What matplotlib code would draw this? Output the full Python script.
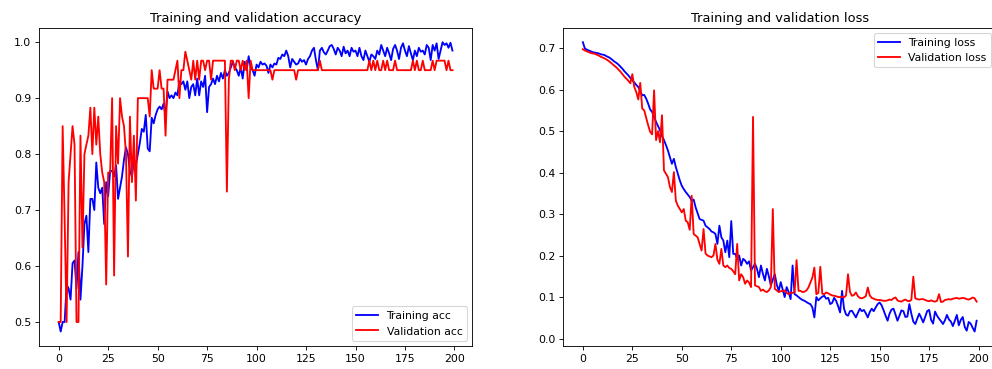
import matplotlib
matplotlib.use('Agg')
import matplotlib.pyplot as plt

# values (200 epochs)
acc = [0.500, 0.483, 0.500, 0.500, 0.567, 0.560, 0.540, 0.605, 0.610, 0.560,
       0.625, 0.540, 0.600, 0.675, 0.690, 0.625, 0.720, 0.720, 0.700, 0.785,
       0.740, 0.730, 0.740, 0.675, 0.750, 0.725, 0.770, 0.770, 0.760, 0.780,
       0.720, 0.740, 0.760, 0.790, 0.812, 0.800, 0.770, 0.760, 0.790, 0.780,
       0.800, 0.820, 0.845, 0.840, 0.870, 0.810, 0.805, 0.865, 0.855, 0.870,
       0.880, 0.885, 0.880, 0.890, 0.870, 0.912, 0.900, 0.905, 0.900, 0.910,
       0.905, 0.930, 0.925, 0.930, 0.915, 0.930, 0.900, 0.920, 0.925, 0.905,
       0.935, 0.905, 0.930, 0.920, 0.940, 0.875, 0.920, 0.925, 0.935, 0.925,
       0.940, 0.930, 0.945, 0.935, 0.950, 0.940, 0.945, 0.955, 0.965, 0.955,
       0.950, 0.940, 0.955, 0.935, 0.965, 0.950, 0.975, 0.955, 0.950, 0.940,
       0.960, 0.955, 0.965, 0.960, 0.962, 0.958, 0.945, 0.960, 0.955, 0.962,
       0.960, 0.972, 0.970, 0.978, 0.975, 0.985, 0.975, 0.955, 0.970, 0.965,
       0.960, 0.962, 0.970, 0.965, 0.968, 0.960, 0.970, 0.975, 0.985, 0.990,
       0.968, 0.950, 0.985, 0.990, 0.982, 0.978, 0.985, 0.993, 0.995, 0.988,
       0.978, 0.990, 0.985, 0.975, 0.992, 0.980, 0.985, 0.975, 0.990, 0.983,
       0.985, 0.975, 0.990, 0.975, 0.968, 0.985, 0.975, 0.965, 0.978, 0.975,
       0.970, 0.985, 0.978, 0.995, 0.985, 0.975, 0.990, 0.980, 0.968, 0.988,
       0.995, 0.985, 0.970, 0.990, 0.998, 0.985, 0.975, 0.993, 0.980, 0.968,
       0.985, 0.975, 0.990, 0.983, 0.985, 0.978, 0.995, 0.990, 0.968, 0.995,
       0.985, 0.998, 0.970, 0.985, 1.000, 0.995, 0.998, 0.990, 0.999, 0.985]

val_acc = [0.500, 0.500, 0.850, 0.683, 0.500, 0.750, 0.800, 0.850, 0.817, 0.500,
           0.500, 0.833, 0.633, 0.800, 0.817, 0.833, 0.883, 0.800, 0.883, 0.817,
           0.867, 0.800, 0.767, 0.750, 0.567, 0.767, 0.767, 0.900, 0.583, 0.850,
           0.783, 0.900, 0.867, 0.850, 0.800, 0.617, 0.867, 0.750, 0.833, 0.717,
           0.900, 0.900, 0.900, 0.900, 0.900, 0.900, 0.867, 0.950, 0.917, 0.917,
           0.917, 0.950, 0.917, 0.917, 0.833, 0.933, 0.933, 0.933, 0.933, 0.950,
           0.967, 0.900, 0.950, 0.950, 0.983, 0.967, 0.950, 0.933, 0.967, 0.933,
           0.967, 0.933, 0.967, 0.967, 0.950, 0.967, 0.967, 0.933, 0.967, 0.967,
           0.967, 0.967, 0.967, 0.967, 0.967, 0.733, 0.933, 0.967, 0.967, 0.950,
           0.967, 0.967, 0.950, 0.967, 0.950, 0.967, 0.900, 0.967, 0.950, 0.950,
           0.950, 0.950, 0.950, 0.950, 0.950, 0.950, 0.950, 0.950, 0.933, 0.950,
           0.950, 0.950, 0.950, 0.950, 0.950, 0.950, 0.950, 0.950, 0.950, 0.950,
           0.933, 0.950, 0.950, 0.950, 0.950, 0.950, 0.950, 0.950, 0.950, 0.950,
           0.950, 0.950, 0.967, 0.950, 0.950, 0.950, 0.950, 0.950, 0.950, 0.950,
           0.950, 0.950, 0.950, 0.950, 0.950, 0.950, 0.950, 0.950, 0.950, 0.950,
           0.950, 0.950, 0.950, 0.950, 0.950, 0.950, 0.950, 0.967, 0.950, 0.967,
           0.950, 0.967, 0.950, 0.950, 0.967, 0.950, 0.967, 0.950, 0.950, 0.950,
           0.967, 0.950, 0.950, 0.950, 0.950, 0.950, 0.950, 0.950, 0.950, 0.967,
           0.950, 0.967, 0.950, 0.950, 0.967, 0.950, 0.950, 0.950, 0.950, 0.967,
           0.950, 0.967, 0.967, 0.967, 0.967, 0.967, 0.950, 0.967, 0.950, 0.950]

loss = [0.714, 0.699, 0.696, 0.694, 0.692, 0.690, 0.689, 0.688, 0.687, 0.685,
        0.684, 0.683, 0.680, 0.678, 0.675, 0.671, 0.667, 0.664, 0.660, 0.655,
        0.650, 0.644, 0.639, 0.634, 0.628, 0.622, 0.617, 0.611, 0.606, 0.596,
        0.586, 0.587, 0.578, 0.566, 0.552, 0.546, 0.534, 0.522, 0.512, 0.502,
        0.488, 0.478, 0.466, 0.453, 0.437, 0.421, 0.433, 0.413, 0.397, 0.381,
        0.368, 0.360, 0.353, 0.347, 0.341, 0.332, 0.335, 0.316, 0.302, 0.288,
        0.286, 0.284, 0.272, 0.268, 0.264, 0.258, 0.256, 0.252, 0.228, 0.272,
        0.244, 0.236, 0.208, 0.236, 0.196, 0.283, 0.204, 0.204, 0.192, 0.200,
        0.176, 0.192, 0.188, 0.180, 0.186, 0.164, 0.172, 0.180, 0.168, 0.148,
        0.176, 0.156, 0.140, 0.168, 0.150, 0.128, 0.142, 0.155, 0.130, 0.115,
        0.136, 0.118, 0.100, 0.124, 0.112, 0.095, 0.176, 0.107, 0.104, 0.100,
        0.096, 0.093, 0.091, 0.088, 0.085, 0.083, 0.075, 0.051, 0.100, 0.092,
        0.097, 0.101, 0.103, 0.096, 0.098, 0.083, 0.086, 0.098, 0.091, 0.078,
        0.063, 0.115, 0.072, 0.058, 0.055, 0.066, 0.067, 0.059, 0.051, 0.062,
        0.072, 0.066, 0.069, 0.061, 0.051, 0.064, 0.072, 0.066, 0.075, 0.083,
        0.087, 0.080, 0.068, 0.055, 0.043, 0.060, 0.070, 0.072, 0.058, 0.043,
        0.055, 0.068, 0.066, 0.052, 0.053, 0.083, 0.060, 0.041, 0.035, 0.048,
        0.060, 0.050, 0.039, 0.052, 0.066, 0.069, 0.045, 0.036, 0.065, 0.055,
        0.048, 0.042, 0.035, 0.044, 0.057, 0.046, 0.041, 0.030, 0.043, 0.057,
        0.032, 0.045, 0.052, 0.028, 0.019, 0.040, 0.036, 0.026, 0.017, 0.043]

val_loss = [0.697, 0.694, 0.692, 0.690, 0.688, 0.687, 0.686, 0.684, 0.682, 0.679,
            0.677, 0.675, 0.672, 0.669, 0.665, 0.661, 0.657, 0.653, 0.648, 0.643,
            0.637, 0.631, 0.626, 0.621, 0.615, 0.637, 0.606, 0.594, 0.576, 0.616,
            0.554, 0.550, 0.532, 0.514, 0.498, 0.492, 0.598, 0.478, 0.500, 0.473,
            0.538, 0.405, 0.397, 0.389, 0.365, 0.353, 0.401, 0.332, 0.320, 0.312,
            0.304, 0.312, 0.284, 0.280, 0.262, 0.344, 0.252, 0.248, 0.244, 0.228,
            0.212, 0.264, 0.205, 0.200, 0.198, 0.196, 0.200, 0.228, 0.190, 0.180,
            0.216, 0.176, 0.172, 0.176, 0.170, 0.168, 0.162, 0.155, 0.228, 0.140,
            0.155, 0.148, 0.132, 0.140, 0.135, 0.124, 0.534, 0.128, 0.126, 0.124,
            0.115, 0.118, 0.114, 0.112, 0.116, 0.124, 0.312, 0.120, 0.116, 0.112,
            0.114, 0.115, 0.116, 0.110, 0.107, 0.111, 0.110, 0.112, 0.189, 0.115,
            0.115, 0.112, 0.113, 0.116, 0.123, 0.135, 0.147, 0.171, 0.107, 0.110,
            0.173, 0.108, 0.107, 0.111, 0.109, 0.106, 0.104, 0.103, 0.102, 0.100,
            0.100, 0.101, 0.099, 0.104, 0.155, 0.112, 0.103, 0.105, 0.111, 0.102,
            0.098, 0.097, 0.099, 0.102, 0.123, 0.104, 0.098, 0.096, 0.094, 0.093,
            0.093, 0.092, 0.091, 0.091, 0.092, 0.094, 0.093, 0.097, 0.099, 0.092,
            0.090, 0.089, 0.092, 0.094, 0.091, 0.090, 0.093, 0.149, 0.097, 0.095,
            0.094, 0.095, 0.095, 0.093, 0.091, 0.090, 0.092, 0.090, 0.089, 0.091,
            0.107, 0.088, 0.089, 0.093, 0.094, 0.095, 0.094, 0.096, 0.097, 0.098,
            0.096, 0.097, 0.098, 0.097, 0.095, 0.094, 0.096, 0.099, 0.097, 0.089]

epochs = range(len(acc))

# the reference looks rendered at ~78 dpi, so keep default font sizes at that dpi
DPI = 78
plt.rcParams['lines.linewidth'] = 1.7
fig = plt.figure(figsize=(992.3/DPI, 369.3/DPI), dpi=DPI)
ax1 = fig.add_axes([39/992, 1-346/369, 433/992, 318/369])
ax2 = fig.add_axes([563/992, 1-346/369, 433/992, 318/369])

ax1.plot(epochs, acc, 'b', label='Training acc')
ax1.plot(epochs, val_acc, 'r', label='Validation acc')
ax1.set_title('Training and validation accuracy')
ax1.legend(loc='lower right')

ax2.plot(epochs, loss, 'b', label='Training loss')
ax2.plot(epochs, val_loss, 'r', label='Validation loss')
ax2.set_title('Training and validation loss')
ax2.legend(loc='upper right')

fig.savefig('out.png', dpi=DPI)
